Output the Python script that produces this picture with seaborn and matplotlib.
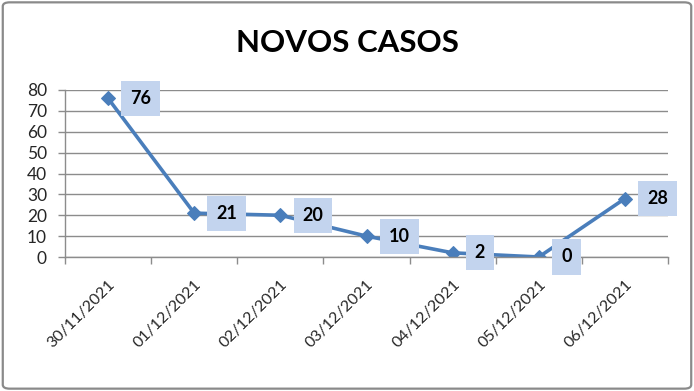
import matplotlib
matplotlib.use("Agg")
import matplotlib.pyplot as plt
import seaborn as sns
import pandas as pd
import numpy as np
from matplotlib.patches import FancyBboxPatch

dates = ["30/11/2021", "01/12/2021", "02/12/2021", "03/12/2021",
         "04/12/2021", "05/12/2021", "06/12/2021"]
novos_casos = [76, 21, 20, 10, 2, 0, 28]
y_ticks = [0, 10, 20, 30, 40, 50, 60, 70, 80]
title = "NOVOS CASOS"

sns.set_theme(style="white")
plt.rcParams['font.family'] = ['Lato', 'DejaVu Sans']

df = pd.DataFrame({"pos": np.arange(len(dates)), "casos": novos_casos})

fig = plt.figure(figsize=(6.94, 3.91), dpi=100)
ax = fig.add_axes([65/694, 1-257/391, (668-65)/694, (257-90)/391])

line_color = "#4a7ebb"
grid_color = "#8c8c8c"

sns.lineplot(data=df, x="pos", y="casos", ax=ax, color=line_color,
             linewidth=2.6, marker="D", markersize=7.5,
             markeredgecolor=line_color, markerfacecolor=line_color)

ax.set_xlim(-0.5, len(dates) - 0.5)
ax.set_ylim(0, 80)
ax.set_yticks(y_ticks)
ax.set_yticklabels([str(v) for v in y_ticks], fontsize=12.5)
ax.set_xticks(np.arange(len(dates)))
ax.set_xticklabels(dates, rotation=45, ha="right", rotation_mode="anchor",
                   fontsize=11.5)
ax.set_xticks(np.arange(-0.5, len(dates)), minor=True)
ax.tick_params(axis="x", which="major", length=0, pad=15)
ax.tick_params(axis="x", which="minor", length=5, color=grid_color, width=1,
               direction="out", bottom=True)
ax.tick_params(axis="y", length=5, color=grid_color, width=1,
               direction="out", left=True, pad=8)
ax.set_xlabel("")
ax.set_ylabel("")

ax.yaxis.grid(True, color=grid_color, linewidth=1)
ax.set_axisbelow(True)
for s in ["top", "right"]:
    ax.spines[s].set_visible(False)
for s in ["left", "bottom"]:
    ax.spines[s].set_color(grid_color)
    ax.spines[s].set_linewidth(1)

for x, v in zip(df["pos"], df["casos"]):
    ax.annotate(str(v), xy=(x, v), xytext=(16, 0), textcoords="offset points",
                ha="left", va="center", fontsize=13, fontweight="bold",
                color="black",
                bbox=dict(boxstyle="square,pad=0.5", facecolor="#c3d4ee",
                          edgecolor="none"), zorder=5)

fig.text(347/694, 1-43/391, title, ha="center", va="center",
         fontsize=22.5, fontweight="bold", color="black")

border = FancyBboxPatch((0.004, 0.006), 0.992, 0.988,
                        boxstyle="round,pad=0,rounding_size=0.01",
                        transform=fig.transFigure, facecolor="none",
                        edgecolor="#8a8a8a", linewidth=1.6)
fig.patches.append(border)

fig.savefig("out.png", dpi=100)
